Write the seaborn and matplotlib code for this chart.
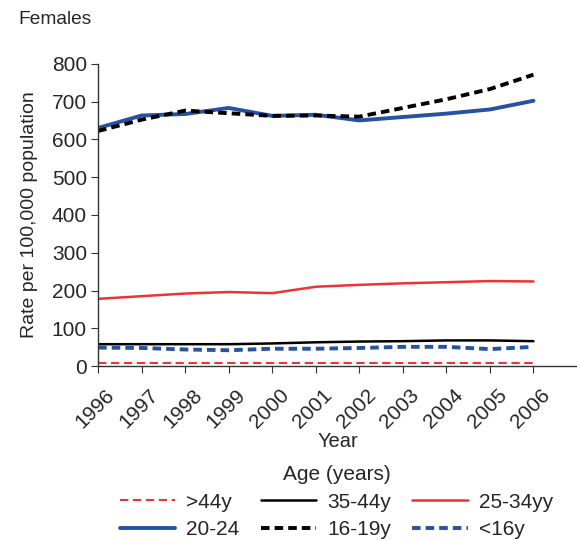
import pandas as pd
import matplotlib
matplotlib.use("Agg")
import matplotlib.pyplot as plt
import matplotlib.transforms as mtransforms
import seaborn as sns

years = [1996, 1997, 1998, 1999, 2000, 2001, 2002, 2003, 2004, 2005, 2006]

over44 = [8, 8, 8, 8, 8, 8, 8, 8, 8, 8, 8]
age35_44 = [58, 58, 58, 58, 60, 63, 65, 66, 68, 68, 66]
age25_34 = [178, 185, 192, 196, 193, 210, 215, 219, 222, 225, 224]
age20_24 = [630, 663, 667, 683, 662, 665, 650, 659, 668, 679, 702]
age16_19 = [622, 652, 676, 669, 662, 663, 660, 683, 706, 733, 771]
under16 = [49, 48, 44, 42, 46, 46, 48, 51, 51, 45, 51]

labels = [">44y", "35-44y", "25-34yy", "20-24", "16-19y", "<16y"]
series = [over44, age35_44, age25_34, age20_24, age16_19, under16]

blue = "#2552a3"
red = "#ec3434"
styles = {
    ">44y": dict(color=red, ls=(0, (4, 2.2)), lw=1.5),
    "35-44y": dict(color="black", ls="-", lw=1.8),
    "25-34yy": dict(color=red, ls="-", lw=1.8),
    "20-24": dict(color=blue, ls="-", lw=2.8),
    "16-19y": dict(color="black", ls=(0, (2.2, 1.3)), lw=2.8),
    "<16y": dict(color=blue, ls=(0, (2.2, 1.3)), lw=2.8),
}

rows = []
for lab, vals in zip(labels, series):
    for yr, v in zip(years, vals):
        rows.append({"Year": yr, "Rate": v, "Age": lab})
df = pd.DataFrame(rows)

sns.set_style("ticks")
plt.rcParams["font.family"] = ["Liberation Sans", "DejaVu Sans"]

fig = plt.figure(figsize=(5.77, 5.40), dpi=100)
ax = fig.add_axes([0.17, 0.322, 0.83, 0.56])

handles = []
for lab in labels:
    st = styles[lab]
    sns.lineplot(data=df[df["Age"] == lab], x="Year", y="Rate", ax=ax,
                 color=st["color"], linestyle=st["ls"], linewidth=st["lw"],
                 legend=False)
    handles.append(ax.lines[-1])

ax.set_xlim(1996, 2007)
ax.set_ylim(0, 800)
ax.set_xticks(years)
ax.set_xticklabels([str(y) for y in years], rotation=45, ha="right",
                   rotation_mode="anchor", fontsize=15)
ax.set_yticks(range(0, 801, 100))
ax.tick_params(axis="y", labelsize=15, length=5, color="#333333", pad=3)
ax.tick_params(axis="x", length=5, color="#333333", pad=9)
shift = mtransforms.ScaledTranslation(7 / 100, 0, fig.dpi_scale_trans)
for lbl in ax.get_xticklabels():
    lbl.set_transform(lbl.get_transform() + shift)
ax.set_xlabel("Year", fontsize=14.5, labelpad=0)
ax.set_ylabel("Rate per 100,000 population", fontsize=14, labelpad=10)
for sp in ["top", "right"]:
    ax.spines[sp].set_visible(False)
for sp in ["left", "bottom"]:
    ax.spines[sp].set_color("#333333")
    ax.spines[sp].set_linewidth(1.0)

fig.text(0.031, 0.963, "Females", fontsize=13.8, va="center")

order = [0, 3, 1, 4, 2, 5]
leg = fig.legend([handles[i] for i in order], [labels[i] for i in order],
                 loc="lower center", bbox_to_anchor=(0.583, -0.033), ncol=3,
                 frameon=False, title="Age (years)", fontsize=15,
                 title_fontsize=15, handlelength=2.65, columnspacing=1.03,
                 handletextpad=0.53, labelspacing=0.4)

fig.savefig("out.png", dpi=100)
